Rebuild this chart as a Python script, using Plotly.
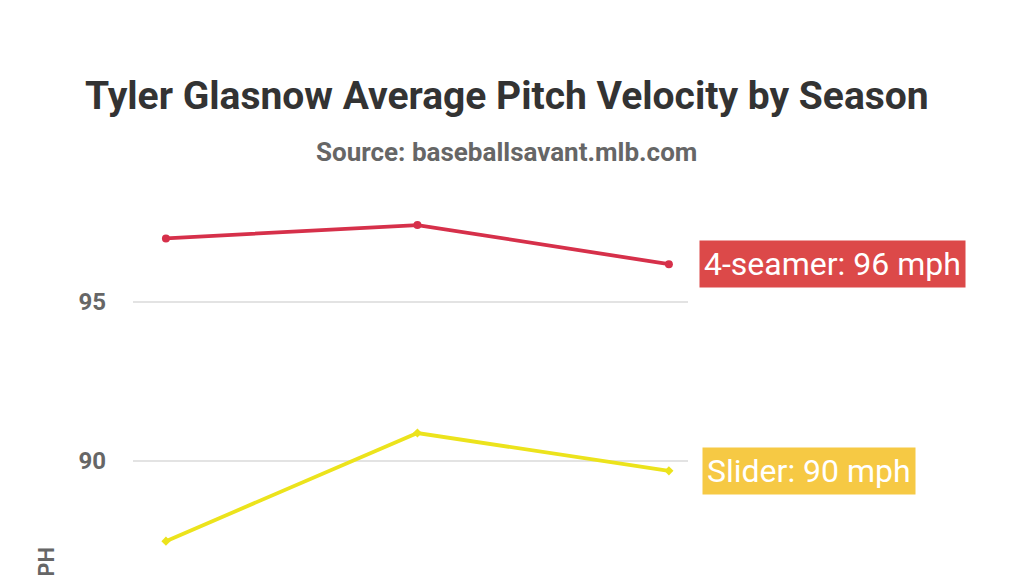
import plotly.graph_objects as go

seasons = [2019, 2020, 2021]
four_seamer = [97.0, 97.42, 96.19]
slider = [87.48, 90.88, 89.69]
y_ticks = [90, 95]
title_text = "Tyler Glasnow Average Pitch Velocity by Season"
subtitle_text = "Source: baseballsavant.mlb.com"
label_four = "4-seamer: 96 mph"
label_slider = "Slider: 90 mph"

RED_LINE = "#d6304a"
RED_BOX = "#dc4949"
YEL_LINE = "#ece31c"
YEL_BOX = "#f6c944"
FONT = "Roboto, sans-serif"

# page is offset by the 8px body margin; plot area: x 125..680, y 182..575 (figure px)
L, R, T = 125, 344, 182
PW, PH = 1024 - L - R, 575 - T


def px_to_paper(xp, yp):
    return (xp - 8 - L) / PW, (575 - (yp - 8)) / PH


fig = go.Figure()
fig.add_trace(go.Scatter(x=seasons, y=four_seamer, mode="lines+markers",
                         line=dict(color=RED_LINE, width=3.8),
                         marker=dict(color=RED_LINE, size=8, symbol="circle"),
                         showlegend=False))
fig.add_trace(go.Scatter(x=seasons, y=slider, mode="lines+markers",
                         line=dict(color=YEL_LINE, width=3.8),
                         marker=dict(color=YEL_LINE, size=7, symbol="diamond"),
                         showlegend=False))

fig.add_annotation(x=seasons[-1], y=four_seamer[-1], text=label_four,
                   xanchor="left", yanchor="middle", xshift=30, showarrow=False,
                   bgcolor=RED_BOX, borderpad=4,
                   font=dict(family=FONT, size=32, color="white"))
fig.add_annotation(x=seasons[-1], y=slider[-1], text=label_slider,
                   xanchor="left", yanchor="middle", xshift=33, showarrow=False,
                   bgcolor=YEL_BOX, borderpad=4,
                   font=dict(family=FONT, size=32, color="white"))

tx, ty = px_to_paper(507, 96)
fig.add_annotation(xref="paper", yref="paper", x=tx, y=ty,
                   text=title_text, showarrow=False,
                   xanchor="center", yanchor="middle",
                   font=dict(family=FONT, size=39, color="#333333", weight="bold"))
sx, sy = px_to_paper(506, 152)
fig.add_annotation(xref="paper", yref="paper", x=sx, y=sy,
                   text=subtitle_text, showarrow=False,
                   xanchor="center", yanchor="middle",
                   font=dict(family=FONT, size=26, color="#666666", weight="bold"))
mx, my = px_to_paper(46, 572)
fig.add_annotation(xref="paper", yref="paper", x=mx, y=my,
                   text="MPH", showarrow=False, textangle=-90,
                   xanchor="center", yanchor="middle",
                   font=dict(family=FONT, size=22, color="#666666", weight="bold"))

fig.update_layout(
    width=1024, height=575,
    margin=dict(l=L, r=R, t=T, b=0),
    paper_bgcolor="white", plot_bgcolor="white",
    xaxis=dict(range=[2019 - 0.131, 2021 + 0.076], showticklabels=False,
               showgrid=False, zeroline=False, showline=False),
    yaxis=dict(range=[86.164, 98.522], tickvals=y_ticks, showgrid=True,
               gridcolor="#e3e3e3", gridwidth=2, zeroline=False, showline=False,
               ticklabelstandoff=26,
               tickfont=dict(family=FONT, size=24, color="#666666", weight="bold")),
)

fig.write_html("out.html")
